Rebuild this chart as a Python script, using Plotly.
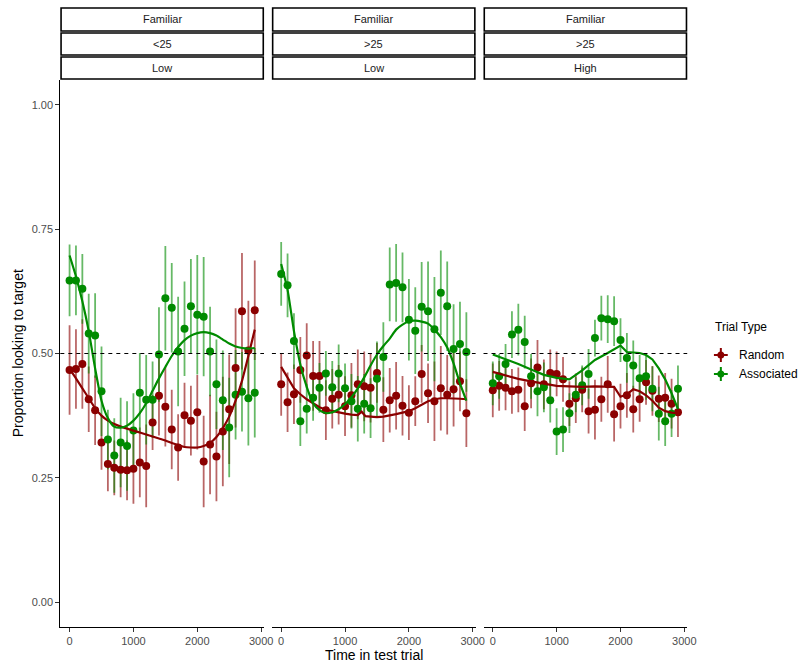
import plotly.graph_objects as go

W, H = 804, 662

RED = "#8B0000"
GREEN = "#008B00"
RED_BAR = "rgba(139,0,0,0.6)"
GREEN_BAR = "rgba(0,139,0,0.6)"

# time bins (ms)
time_ms = [0, 100, 200, 300, 400, 500, 600, 700, 800, 900,
           1000, 1100, 1200, 1300, 1400, 1500, 1600, 1700, 1800, 1900,
           2000, 2100, 2200, 2300, 2400, 2500, 2600, 2700, 2800, 2900]

# facet strip labels (three stacked rows per panel)
strip_row1 = ["Familiar", "Familiar", "Familiar"]
strip_row2 = ["<25", ">25", ">25"]
strip_row3 = ["Low", "Low", "High"]

series_names = ["Random", "Associated"]

# ---- panel 1 : Familiar / <25 / Low ----
p1_random = [0.467, 0.469, 0.479, 0.408, 0.386, 0.321, 0.278, 0.270, 0.266, 0.265,
             0.268, 0.281, 0.274, 0.361, 0.415, 0.393, 0.347, 0.311, 0.376, 0.365,
             0.382, 0.283, 0.317, 0.293, 0.343, 0.388, 0.471, 0.585, 0.506, 0.587]
p1_random_se = [0.09, 0.08, 0.09, 0.066, 0.07, 0.055, 0.055, 0.055, 0.055, 0.06,
                0.07, 0.07, 0.083, 0.055, 0.08, 0.08, 0.08, 0.067, 0.065, 0.07,
                0.075, 0.092, 0.1, 0.09, 0.11, 0.11, 0.12, 0.117, 0.1, 0.1]
p1_assoc = [0.647, 0.647, 0.630, 0.540, 0.536, 0.424, 0.327, 0.295, 0.321, 0.314,
            0.345, 0.421, 0.407, 0.407, 0.498, 0.611, 0.592, 0.504, 0.550, 0.595,
            0.578, 0.574, 0.504, 0.438, 0.406, 0.351, 0.417, 0.423, 0.410, 0.421]
p1_assoc_se = [0.072, 0.07, 0.07, 0.08, 0.085, 0.09, 0.06, 0.075, 0.09, 0.09,
               0.075, 0.08, 0.09, 0.077, 0.095, 0.105, 0.09, 0.11, 0.095, 0.095,
               0.12, 0.12, 0.09, 0.09, 0.1, 0.1, 0.09, 0.08, 0.095, 0.09]

# ---- panel 2 : Familiar / >25 / Low ----
p2_random = [0.438, 0.402, 0.418, 0.467, 0.496, 0.455, 0.455, 0.386, 0.409, 0.417,
             0.394, 0.416, 0.438, 0.434, 0.431, 0.461, 0.387, 0.406, 0.415, 0.395,
             0.381, 0.404, 0.459, 0.420, 0.404, 0.430, 0.417, 0.428, 0.444, 0.380]
p2_random_se = [0.063, 0.06, 0.06, 0.066, 0.065, 0.07, 0.07, 0.06, 0.06, 0.06,
                0.06, 0.065, 0.07, 0.07, 0.07, 0.06, 0.065, 0.065, 0.068, 0.06,
                0.055, 0.05, 0.058, 0.06, 0.08, 0.085, 0.08, 0.075, 0.06, 0.068]
p2_assoc = [0.660, 0.637, 0.525, 0.364, 0.389, 0.411, 0.431, 0.460, 0.432, 0.460,
            0.430, 0.404, 0.389, 0.399, 0.390, 0.449, 0.493, 0.639, 0.642, 0.633,
            0.568, 0.546, 0.594, 0.585, 0.549, 0.622, 0.595, 0.509, 0.519, 0.503]
p2_assoc_se = [0.064, 0.064, 0.056, 0.05, 0.05, 0.046, 0.05, 0.045, 0.053, 0.058,
               0.05, 0.055, 0.066, 0.06, 0.06, 0.075, 0.07, 0.074, 0.078, 0.07,
               0.082, 0.087, 0.09, 0.1, 0.105, 0.085, 0.09, 0.09, 0.085, 0.08]

# ---- panel 3 : Familiar / >25 / High ----
p3_random = [0.426, 0.435, 0.431, 0.424, 0.427, 0.394, 0.440, 0.472, 0.438, 0.461,
             0.459, 0.448, 0.399, 0.410, 0.427, 0.384, 0.387, 0.408, 0.438, 0.378,
             0.394, 0.416, 0.388, 0.408, 0.442, 0.425, 0.409, 0.411, 0.399, 0.382]
p3_random_se = [0.054, 0.05, 0.045, 0.045, 0.045, 0.05, 0.05, 0.055, 0.05, 0.047,
                0.045, 0.045, 0.045, 0.05, 0.045, 0.045, 0.06, 0.045, 0.057, 0.055,
                0.045, 0.045, 0.047, 0.045, 0.045, 0.05, 0.047, 0.05, 0.05, 0.05]
p3_assoc = [0.440, 0.454, 0.479, 0.538, 0.548, 0.523, 0.454, 0.424, 0.432, 0.406,
            0.343, 0.347, 0.380, 0.417, 0.436, 0.459, 0.531, 0.571, 0.569, 0.565,
            0.527, 0.491, 0.476, 0.450, 0.454, 0.429, 0.379, 0.364, 0.379, 0.429]
p3_assoc_se = [0.044, 0.045, 0.04, 0.047, 0.052, 0.053, 0.045, 0.05, 0.05, 0.045,
               0.047, 0.045, 0.04, 0.035, 0.04, 0.05, 0.037, 0.045, 0.048, 0.05,
               0.044, 0.05, 0.05, 0.047, 0.047, 0.045, 0.054, 0.05, 0.047, 0.047]

# ---- smoothed trend lines (knot times and values) ----
p1_random_fit_t = time_ms
p1_random_fit = [0.469, 0.450, 0.430, 0.410, 0.390, 0.375, 0.365, 0.358, 0.353, 0.349,
                 0.345, 0.341, 0.337, 0.333, 0.329, 0.325, 0.320, 0.316, 0.312, 0.311,
                 0.311, 0.314, 0.320, 0.332, 0.350, 0.373, 0.405, 0.445, 0.495, 0.548]
p1_assoc_fit_t = time_ms
p1_assoc_fit = [0.697, 0.655, 0.605, 0.545, 0.470, 0.405, 0.370, 0.353, 0.351, 0.355,
                0.365, 0.380, 0.400, 0.425, 0.450, 0.473, 0.495, 0.513, 0.527, 0.536,
                0.541, 0.543, 0.541, 0.536, 0.528, 0.520, 0.514, 0.511, 0.510, 0.511]

p2_random_fit_t = [0, 100, 200, 300, 400, 500, 600, 700, 800, 900, 1000, 1100, 1200,
                   1260, 1320, 1400, 1500, 1600, 1700, 1800, 1900, 2000, 2100, 2200,
                   2300, 2400, 2500, 2600, 2700, 2800, 2900]
p2_random_fit = [0.473, 0.450, 0.430, 0.418, 0.408, 0.400, 0.392, 0.387, 0.384, 0.381,
                 0.379, 0.377, 0.376, 0.383, 0.374, 0.373, 0.372, 0.373, 0.375, 0.378,
                 0.381, 0.384, 0.390, 0.397, 0.404, 0.408, 0.410, 0.410, 0.410, 0.409,
                 0.408]
p2_assoc_fit_t = time_ms
p2_assoc_fit = [0.680, 0.628, 0.545, 0.478, 0.433, 0.400, 0.386, 0.380, 0.382, 0.388,
                0.398, 0.412, 0.430, 0.452, 0.476, 0.498, 0.515, 0.530, 0.548, 0.558,
                0.565, 0.566, 0.564, 0.560, 0.548, 0.533, 0.512, 0.480, 0.440, 0.405]

p3_random_fit_t = [0, 200, 400, 600, 800, 1000, 1200, 1400, 1600, 1800, 1900, 2000,
                   2100, 2200, 2300, 2400, 2500, 2600, 2700, 2800, 2900]
p3_random_fit = [0.463, 0.456, 0.449, 0.444, 0.439, 0.435, 0.434, 0.433, 0.434, 0.434,
                 0.433, 0.413, 0.418, 0.428, 0.424, 0.416, 0.405, 0.391, 0.384, 0.381,
                 0.380]
p3_assoc_fit_t = [0, 200, 400, 600, 800, 1000, 1200, 1400, 1600, 1800, 2000, 2100,
                  2200, 2300, 2400, 2500, 2600, 2700, 2800, 2900]
p3_assoc_fit = [0.498, 0.489, 0.479, 0.468, 0.457, 0.451, 0.448, 0.466, 0.487, 0.501,
                0.516, 0.503, 0.502, 0.501, 0.497, 0.488, 0.470, 0.448, 0.420, 0.388]

panels = [
    dict(rand=p1_random, rand_se=p1_random_se, assoc=p1_assoc, assoc_se=p1_assoc_se,
         rfit_t=p1_random_fit_t, rfit=p1_random_fit, afit_t=p1_assoc_fit_t,
         afit=p1_assoc_fit, rshape="spline", ashape="spline"),
    dict(rand=p2_random, rand_se=p2_random_se, assoc=p2_assoc, assoc_se=p2_assoc_se,
         rfit_t=p2_random_fit_t, rfit=p2_random_fit, afit_t=p2_assoc_fit_t,
         afit=p2_assoc_fit, rshape="linear", ashape="spline"),
    dict(rand=p3_random, rand_se=p3_random_se, assoc=p3_assoc, assoc_se=p3_assoc_se,
         rfit_t=p3_random_fit_t, rfit=p3_random_fit, afit_t=p3_assoc_fit_t,
         afit=p3_assoc_fit, rshape="linear", ashape="linear"),
]

# panel pixel extents (left, right) and vertical extents
panel_px = [(61, 267), (275, 481), (489, 695)]
panel_top, panel_bottom = 80, 627


def px(x):
    return x / W


def py(y):
    return 1 - y / H


fig = go.Figure()

for i, p in enumerate(panels):
    ax = "" if i == 0 else str(i + 1)
    xa, ya = "x" + ax, "y" + ax
    # error bars first, underneath every point
    for vals, se, col in [(p["rand"], p["rand_se"], RED_BAR),
                          (p["assoc"], p["assoc_se"], GREEN_BAR)]:
        fig.add_trace(go.Scatter(
            x=time_ms, y=vals, mode="markers", xaxis=xa, yaxis=ya,
            marker=dict(size=1, color="rgba(0,0,0,0)"),
            error_y=dict(type="data", array=se, visible=True, color=col,
                         thickness=1.8, width=0),
            showlegend=False, hoverinfo="skip"))
    # points
    for vals, col, name in [(p["rand"], RED, series_names[0]),
                            (p["assoc"], GREEN, series_names[1])]:
        fig.add_trace(go.Scatter(
            x=time_ms, y=vals, mode="markers", xaxis=xa, yaxis=ya, name=name,
            marker=dict(size=8, color=col, line=dict(width=0)),
            showlegend=False))
    # smoothed trends
    fig.add_trace(go.Scatter(
        x=p["rfit_t"], y=p["rfit"], mode="lines", xaxis=xa, yaxis=ya,
        line=dict(color=RED, width=2.2, shape=p["rshape"], smoothing=0.6),
        showlegend=False, hoverinfo="skip"))
    fig.add_trace(go.Scatter(
        x=p["afit_t"], y=p["afit"], mode="lines", xaxis=xa, yaxis=ya,
        line=dict(color=GREEN, width=2.2, shape=p["ashape"], smoothing=0.6),
        showlegend=False, hoverinfo="skip"))

layout = dict(
    width=W, height=H,
    margin=dict(l=0, r=0, t=0, b=0),
    paper_bgcolor="white", plot_bgcolor="white",
    font=dict(family="Liberation Sans, Arial, sans-serif", color="#000000"),
    showlegend=False,
)

xtick = dict(tickfont=dict(size=11, color="#4D4D4D"))
for i, (l, r) in enumerate(panel_px):
    ax = "" if i == 0 else str(i + 1)
    layout["xaxis" + ax] = dict(
        domain=[px(l), px(r)], range=[-145, 3045], anchor="y" + ax,
        tickvals=[0, 1000, 2000, 3000], ticktext=["0", "1000", "2000", "3000"],
        ticks="outside", ticklen=4, tickwidth=1, tickcolor="#333333",
        showline=True, linecolor="#000000", linewidth=1,
        showgrid=False, zeroline=False, fixedrange=True, **xtick)
    ydict = dict(
        domain=[py(panel_bottom), py(panel_top)], range=[-0.05, 1.05],
        anchor="x" + ax, showgrid=False, zeroline=False, fixedrange=True)
    if i == 0:
        ydict.update(
            tickvals=[0, 0.25, 0.5, 0.75, 1.0],
            ticktext=["0.00", "0.25", "0.50", "0.75", "1.00"],
            ticks="outside", ticklen=4, tickwidth=1, tickcolor="#333333",
            showline=True, linecolor="#000000", linewidth=1,
            tickfont=dict(size=11, color="#4D4D4D"))
    else:
        ydict.update(showticklabels=False, ticks="", showline=False)
    layout["yaxis" + ax] = ydict

shapes = []
annotations = []

# reference line at chance level and facet strips
strip_rows = [(8, 31), (33, 55), (57, 79)]
for i, (l, r) in enumerate(panel_px):
    ax = "" if i == 0 else str(i + 1)
    shapes.append(dict(type="line", xref=("x" + ax) + " domain", yref="y" + ax,
                       x0=0, x1=1, y0=0.5, y1=0.5,
                       line=dict(color="#000000", width=1, dash="4px,4px")))
    labels = [strip_row1[i], strip_row2[i], strip_row3[i]]
    for (t, b), lab in zip(strip_rows, labels):
        shapes.append(dict(type="rect", xref="paper", yref="paper",
                           x0=px(l + 0.75), x1=px(r - 0.75), y0=py(b), y1=py(t),
                           line=dict(color="#000000", width=1.6),
                           fillcolor="white", layer="above"))
        annotations.append(dict(x=px((l + r) / 2), y=py((t + b) / 2),
                                xref="paper", yref="paper", text=lab,
                                showarrow=False, xanchor="center", yanchor="middle",
                                font=dict(size=11, color="#1A1A1A")))

# axis titles
annotations.append(dict(x=px(378), y=py(655), xref="paper", yref="paper",
                        text="Time in test trial", showarrow=False,
                        xanchor="center", yanchor="middle",
                        font=dict(size=14, color="#000000")))
annotations.append(dict(x=px(18), y=py((panel_top + panel_bottom) / 2),
                        xref="paper", yref="paper",
                        text="Proportion looking to target", showarrow=False,
                        textangle=-90, xanchor="center", yanchor="middle",
                        font=dict(size=14, color="#000000")))

# legend
annotations.append(dict(x=px(721), y=py(327), xref="paper", yref="paper",
                        text="Trial Type", showarrow=False,
                        xanchor="left", yanchor="middle",
                        font=dict(size=12, color="#000000")))
for name, col, yc in [(series_names[0], RED, 355), (series_names[1], GREEN, 374)]:
    shapes.append(dict(type="line", xref="paper", yref="paper",
                       x0=px(722), x1=px(736), y0=py(yc), y1=py(yc),
                       line=dict(color=col, width=2)))
    shapes.append(dict(type="line", xref="paper", yref="paper",
                       x0=px(729), x1=px(729), y0=py(yc - 7), y1=py(yc + 7),
                       line=dict(color=col, width=2)))
    shapes.append(dict(type="circle", xref="paper", yref="paper",
                       x0=px(725.5), x1=px(732.5), y0=py(yc + 3.5), y1=py(yc - 3.5),
                       line=dict(color=col, width=0), fillcolor=col))
    annotations.append(dict(x=px(745), y=py(yc), xref="paper", yref="paper",
                            text=name, showarrow=False,
                            xanchor="left", yanchor="middle",
                            font=dict(size=12, color="#000000")))

layout["shapes"] = shapes
layout["annotations"] = annotations
fig.update_layout(**layout)

fig.write_html("out.html")
